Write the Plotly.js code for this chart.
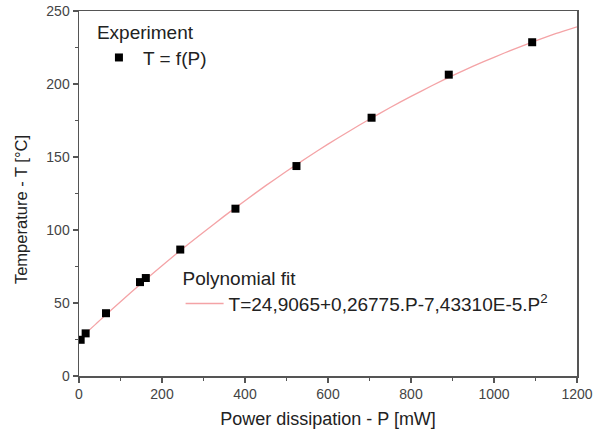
<!DOCTYPE html>
<html>
<head>
<meta charset="utf-8">
<script src="https://cdn.plot.ly/plotly-3.0.1.min.js"></script>
<style>html,body{margin:0;padding:0;background:#fff;}#chart{width:612px;height:437px;}</style>
</head>
<body>
<div id="chart"></div>
<script>
// Measured data: power dissipation P [mW] vs temperature T [°C]
const powerP = [4, 16, 65, 147, 161, 244, 377, 524, 705, 891, 1092];
const tempT = [24.8, 29.2, 43.0, 64.3, 67.1, 86.6, 114.6, 143.8, 176.9, 206.4, 228.6];

// Polynomial fit curve
const fitP = [0, 50, 100, 150, 200, 250, 300, 350, 400, 450, 500, 550, 600, 650, 700, 750, 800, 850, 900, 950, 1000, 1050, 1100, 1150, 1200];
const fitT = [24.9, 38.1, 50.9, 63.4, 75.5, 87.3, 98.5, 109.5, 120.1, 130.4, 140.2, 149.7, 158.8, 167.5, 175.9, 183.9, 191.5, 198.8, 205.7, 212.2, 218.3, 224.1, 229.5, 234.6, 239.2];

const expTitle = "Experiment";
const expName = "T = f(P)";
const fitTitle = "Polynomial fit";
const fitName = "T=24,9065+0,26775.P-7,43310E-5.P<sup>2</sup>";
const xTitle = "Power dissipation - P [mW]";
const yTitle = "Temperature - T [°C]";

const FONT = "Liberation Sans, Arial, sans-serif";
const textFont = {family: FONT, size: 19, color: "#222"};

const traces = [
  {
    x: fitP, y: fitT, type: "scatter", mode: "lines", name: fitName,
    line: {color: "#f4a3a6", width: 1.3, shape: "spline", smoothing: 0.6},
    legend: "legend2"
  },
  {
    x: powerP, y: tempT, type: "scatter", mode: "markers", name: expName,
    marker: {symbol: "square", size: 8, color: "#000"},
    legend: "legend"
  }
];

const axisCommon = {
  showline: true, linecolor: "#555", linewidth: 1.5, mirror: true,
  ticks: "outside", ticklen: 5, tickwidth: 1.2, tickcolor: "#555",
  showgrid: false, zeroline: false,
  tickfont: {family: FONT, size: 14, color: "#444"},
  minor: {ticks: "outside", ticklen: 3, tickwidth: 1, tickcolor: "#555"}
};

const layout = {
  width: 612, height: 437,
  margin: {l: 79, r: 35, t: 11, b: 61},
  paper_bgcolor: "#fff", plot_bgcolor: "#fff",
  showlegend: true,
  xaxis: Object.assign({}, axisCommon, {
    range: [0, 1200], dtick: 200, minor: Object.assign({}, axisCommon.minor, {dtick: 100}),
    title: {text: xTitle, font: {family: FONT, size: 18, color: "#222"}, standoff: 11}
  }),
  yaxis: Object.assign({}, axisCommon, {
    range: [0, 250], dtick: 50, minor: Object.assign({}, axisCommon.minor, {dtick: 25}),
    title: {text: yTitle + "&nbsp;&nbsp;&nbsp;&nbsp;&nbsp;&nbsp;&nbsp;", font: {family: FONT, size: 16.5, color: "#222"}, standoff: 14}
  }),
  legend: {
    x: 0.032, y: 0.992, xanchor: "left", yanchor: "top",
    bgcolor: "rgba(0,0,0,0)", borderwidth: 0, itemwidth: 38,
    title: {text: expTitle, font: textFont},
    font: textFont
  },
  legend2: {
    x: 0.204, y: 0.318, xanchor: "left", yanchor: "top",
    bgcolor: "rgba(0,0,0,0)", borderwidth: 0, itemwidth: 38,
    title: {text: fitTitle, font: textFont},
    font: textFont
  }
};

Plotly.newPlot("chart", traces, layout, {displayModeBar: false, staticPlot: true});
</script>
</body>
</html>
